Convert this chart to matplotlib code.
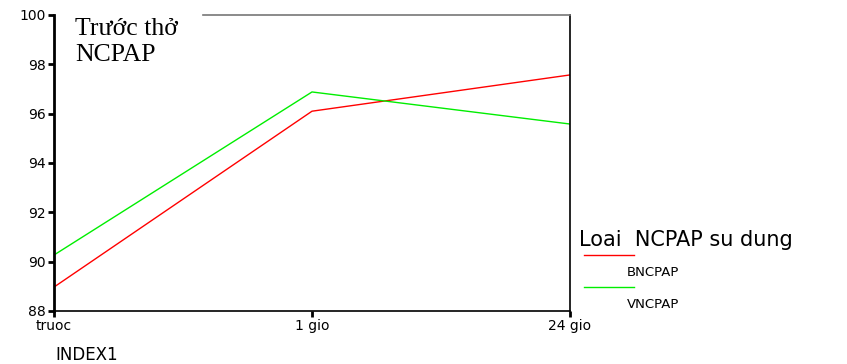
import matplotlib.pyplot as plt
from matplotlib.lines import Line2D

# data
index_labels = ['truoc', '1 gio', '24 gio']
bncpap = [88.97, 96.1, 97.57]
vncpap = [90.27, 96.88, 95.58]
series_names = ['BNCPAP', 'VNCPAP']
series_colors = ['#ff0000', '#00ee00']

plt.rcParams['font.family'] = ['DejaVu Sans']

fig = plt.figure(figsize=(8.47, 3.64), dpi=100)
ax = fig.add_axes([54/847, 1-311/364, (570-54)/847, (311-15)/364])

x = list(range(len(index_labels)))
ax.plot(x, bncpap, color=series_colors[0], lw=1)
ax.plot(x, vncpap, color=series_colors[1], lw=1)

ax.set_xlim(0, 2)
ax.set_ylim(88, 100)
ax.set_yticks([88, 90, 92, 94, 96, 98, 100])
ax.set_xticks(x)
ax.set_xticklabels(index_labels)
ax.tick_params(axis='both', direction='out', length=4, width=2, labelsize=10, pad=2)

ax.spines['left'].set_linewidth(2)
ax.spines['bottom'].set_linewidth(1.2)
ax.spines['right'].set_linewidth(1.2)
ax.spines['top'].set_visible(False)
# the top border only runs from the end of the title box to the right edge
fig.lines.append(Line2D([203/847, 570/847], [1-15/364, 1-15/364], color='#777777',
                        lw=1.2, transform=fig.transFigure))

fig.text(75/847, 1-18/364, 'Trước thở\nNCPAP', family='Liberation Serif', fontsize=18.5,
         va='top', ha='left', linespacing=1.25)

fig.text(55/847, 1-355/364, 'INDEX1', fontsize=12, va='center', ha='left')

# legend drawn by hand like the original
fig.text(579/847, 1-240/364, 'Loai  NCPAP su dung', fontsize=15, va='center', ha='left')
for i, (name, col) in enumerate(zip(series_names, series_colors)):
    ly = 1 - (255 + 32*i)/364
    fig.lines.append(Line2D([584/847, 634/847], [ly, ly], color=col, lw=1,
                            transform=fig.transFigure))
    fig.text(627/847, 1-(273 + 31*i)/364, name, fontsize=9.5, va='center', ha='left')

fig.savefig('out.png', dpi=100)
